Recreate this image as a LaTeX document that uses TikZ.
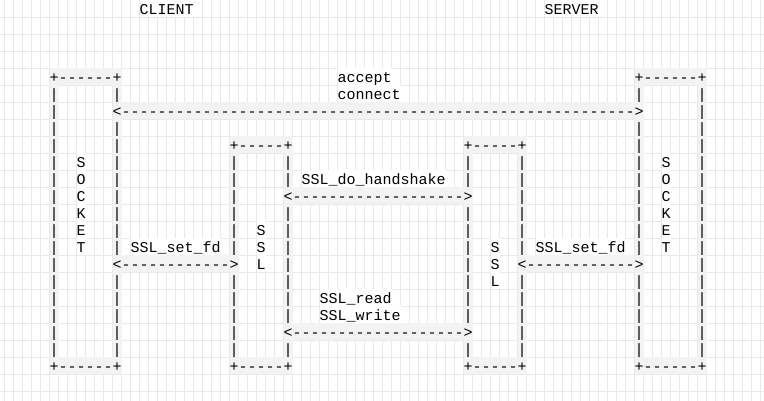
\documentclass[tikz,border=0pt]{standalone}
\usepackage{fontspec}
\setmonofont{Liberation Mono}
\usepackage{xcolor}

\definecolor{gridgray}{RGB}{233,233,233}
\definecolor{artgray}{RGB}{243,243,243}
\newcommand{\dashes}[1]{\foreach \dd in {1,...,#1}{-}}

\begin{document}
\begin{tikzpicture}[
        x=9pt, y=-17pt, shift={(4.5pt,0pt)},
        every node/.style={anchor=north west, inner sep=0pt, text height=14.5pt, text depth=2.5pt, font=\ttfamily\fontsize{15}{17}\selectfont},
        word/.style={fill=white},
        art/.style={fill=artgray},
        gridline/.style={draw=gridgray, line width=1pt}
    ]

    \useasboundingbox (-0.5,0) rectangle (84.3889,23.5294);
    \clip (-0.5,0) rectangle (84.3889,23.5294);

    % background grid
    \foreach \c in {-1,...,85} \draw[gridline] (\c,-1) -- (\c,25);
    \foreach \rr in {1,...,23} \draw[gridline] (-1,\rr) -- (86,\rr);

    % boxes: left col / right col / top row / dashes / name / rows where an arrow tip replaces a side
    \foreach \lc/\rc/\tr/\n/\nm/\la/\lb/\ra/\rb in {5/12/4/6/sockC/0/0/6/15, 70/77/4/6/sockS/6/15/0/0, 25/31/8/5/sslC/15/0/11/19, 51/57/8/5/sslS/11/19/15/0} {
        \node[art] (\nm-top) at (\lc,\tr) {+\dashes{\n}+};
        \node[art] (\nm-bot) at (\lc,21) {+\dashes{\n}+};
        \pgfmathtruncatemacro\first{\tr+1}
        \foreach \rr in {\first,...,20} {
            \ifnum\rr=\la\relax\else\ifnum\rr=\lb\relax\else
                \node[art] (\nm-l\rr) at (\lc,\rr) {|};
            \fi\fi
            \ifnum\rr=\ra\relax\else\ifnum\rr=\rb\relax\else
                \node[art] (\nm-r\rr) at (\rc,\rr) {|};
            \fi\fi
        }
    }

    % arrows
    \node[art] (conn) at (12,6) {<\dashes{57}>};
    \node[art] (hshake) at (31,11) {<\dashes{19}>};
    \node[art] (fdC) at (12,15) {<\dashes{12}>};
    \node[art] (fdS) at (57,15) {<\dashes{12}>};
    \node[art] (rw) at (31,19) {<\dashes{19}>};

    % labels
    \node[word] (client) at (15,0) {CLIENT};
    \node[word] (server) at (60,0) {SERVER};
    \node[word] (accept) at (37,4) {accept};
    \node[word] (connect) at (37,5) {connect};
    \node[word] (handshake) at (33,10) {SSL\_do\_handshake};
    \node[word] (setfdC) at (14,14) {SSL\_set\_fd};
    \node[word] (setfdS) at (59,14) {SSL\_set\_fd};
    \node[word] (read) at (35,17) {SSL\_read};
    \node[word] (write) at (35,18) {SSL\_write};

    \foreach \ch [count=\k] in {S,O,C,K,E,T} {
        \node[word] (sockC-\k) at (8,8+\k) {\ch};
        \node[word] (sockS-\k) at (73,8+\k) {\ch};
    }
    \foreach \ch [count=\k] in {S,S,L} {
        \node[word] (sslC-\k) at (28,12+\k) {\ch};
        \node[word] (sslS-\k) at (54,13+\k) {\ch};
    }

\end{tikzpicture}
\end{document}
